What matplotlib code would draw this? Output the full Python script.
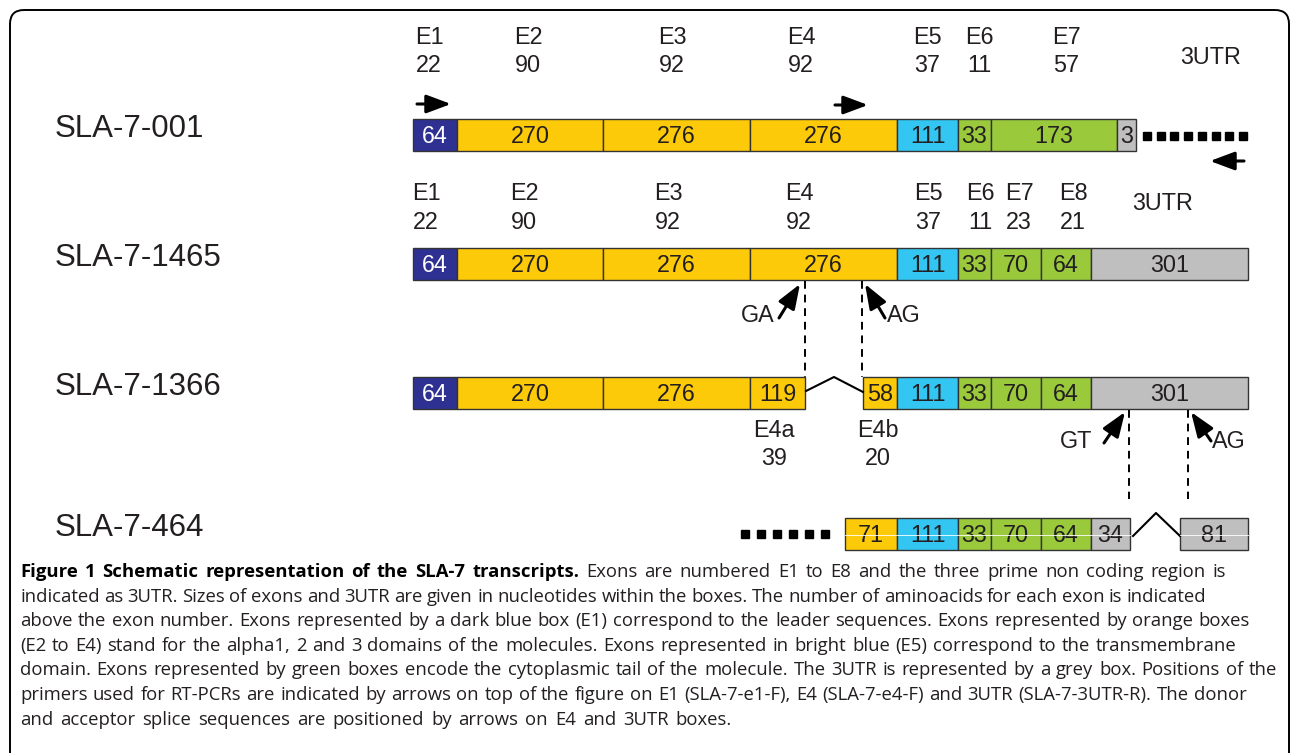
import numpy as np
import matplotlib.pyplot as plt
from matplotlib.patches import Rectangle, FancyBboxPatch

# ---- data: exon sizes (nt) written in the boxes, amino acids above ----
transcripts = ['SLA-7-001', 'SLA-7-1465', 'SLA-7-1366', 'SLA-7-464']

t001_sizes = ['64', '270', '276', '276', '111', '33', '173', '3']
t001_kind = ['lead', 'alpha', 'alpha', 'alpha', 'tm', 'cyto', 'cyto', 'utr']
t001_exons = ['E1', 'E2', 'E3', 'E4', 'E5', 'E6', 'E7']
t001_aa = [22, 90, 92, 92, 37, 11, 57]

t1465_sizes = ['64', '270', '276', '276', '111', '33', '70', '64', '301']
t1465_kind = ['lead', 'alpha', 'alpha', 'alpha', 'tm', 'cyto', 'cyto', 'cyto', 'utr']
t1465_exons = ['E1', 'E2', 'E3', 'E4', 'E5', 'E6', 'E7', 'E8']
t1465_aa = [22, 90, 92, 92, 37, 11, 23, 21]

t1366_sizes = ['64', '270', '276', '119', '58', '111', '33', '70', '64', '301']
t1366_kind = ['lead', 'alpha', 'alpha', 'alpha', 'alpha', 'tm', 'cyto', 'cyto', 'cyto', 'utr']
t1366_split = ['E4a', 'E4b']
t1366_split_aa = [39, 20]

t464_sizes = ['71', '111', '33', '70', '64', '34', '81']
t464_kind = ['alpha', 'tm', 'cyto', 'cyto', 'cyto', 'utr', 'utr']

splice_sites = ['GA', 'AG', 'GT', 'AG']

caption_bold = "Figure 1 Schematic representation of the SLA-7 transcripts."
caption_lines = [
    "Exons are numbered E1 to E8 and the three prime non coding region is",
    "indicated as 3UTR. Sizes of exons and 3UTR are given in nucleotides within the boxes. The number of aminoacids for each exon is indicated",
    "above the exon number. Exons represented by a dark blue box (E1) correspond to the leader sequences. Exons represented by orange boxes",
    "(E2 to E4) stand for the alpha1, 2 and 3 domains of the molecules. Exons represented in bright blue (E5) correspond to the transmembrane",
    "domain. Exons represented by green boxes encode the cytoplasmic tail of the molecule. The 3UTR is represented by a grey box. Positions of the",
    "primers used for RT-PCRs are indicated by arrows on top of the figure on E1 (SLA-7-e1-F), E4 (SLA-7-e4-F) and 3UTR (SLA-7-3UTR-R). The donor",
    "and acceptor splice sequences are positioned by arrows on E4 and 3UTR boxes.",
]
# right end of each caption line as it sits in the page
caption_right = [1275, 1147, 1250, 1237, 1277, 1247, 745]

# ---- layout (pixel space) ----
colors = {'lead': '#2E3192', 'alpha': '#FDCA0A', 'tm': '#33C6F2',
          'cyto': '#9AC93C', 'utr': '#C0BFBF'}
FONT = 'Liberation Sans'
TXT = '#231F20'
FS = 16.8

segs001 = [(413, 457), (457, 603), (603, 750), (750, 897), (897, 958), (958, 991), (991, 1117), (1117, 1136)]
segs1465 = [(413, 457), (457, 603), (603, 750), (750, 897), (897, 958), (958, 991), (991, 1041), (1041, 1091), (1091, 1248)]
segs1366 = [(413, 457), (457, 603), (603, 750), (750, 805), (863, 897), (897, 958), (958, 991), (991, 1041), (1041, 1091), (1091, 1248)]
segs464 = [(845, 897), (897, 958), (958, 991), (991, 1041), (1041, 1091), (1091, 1130), (1180, 1248)]
row_top = [119, 248, 377, 518]
BOX_H = 32

fig = plt.figure(figsize=(12.92, 7.53), dpi=100)
ax = fig.add_axes([0, 0, 1, 1])
ax.set_xlim(0, 1292)
ax.set_ylim(753, 0)
ax.axis('off')

frame = FancyBboxPatch((10, 10), 1279, 820, boxstyle='round,pad=0,rounding_size=14',
                       fc='none', ec='black', lw=1.4)
ax.add_patch(frame)


def draw_row(segs, sizes, kinds, top):
    for (x0, x1), s, k in zip(segs, sizes, kinds):
        ax.add_patch(Rectangle((x0, top), x1 - x0, BOX_H, fc=colors[k], ec='#333333', lw=1, zorder=2))
        ax.text((x0 + x1) / 2, top + BOX_H / 2 + 1, s, ha='center', va='center', fontsize=FS,
                family=FONT, color='white' if k == 'lead' else TXT, zorder=3)


def exon_labels(names, aa, xs, y_name, y_aa):
    for n, a, x in zip(names, aa, xs):
        ax.text(x, y_name, n, ha='center', va='center', fontsize=FS, family=FONT, color=TXT)
        ax.text(x, y_aa, str(a), ha='center', va='center', fontsize=FS, family=FONT, color=TXT)


def arrow(tail, head, lw=2.2):
    ax.annotate('', xy=head, xytext=tail,
                arrowprops=dict(arrowstyle='-|>,head_length=0.75,head_width=0.28', lw=lw, color='black',
                                mutation_scale=20, shrinkA=0, shrinkB=0), zorder=4)


def dots(x0, x1, n, y):
    ax.plot(np.linspace(x0, x1, n), np.full(n, y), ls='none', marker='s', ms=5.6, color='black')


# row labels
for name, top in zip(transcripts, row_top):
    ax.text(55, top + 10, name, ha='left', va='center', fontsize=22.5, family=FONT, color=TXT)

# SLA-7-001
draw_row(segs001, t001_sizes, t001_kind, row_top[0])
exon_labels(t001_exons, t001_aa, [429, 528, 672, 801, 927, 979, 1066], 37, 65)
ax.text(1211, 57, '3UTR', ha='center', va='center', fontsize=FS, family=FONT, color=TXT)
arrow((417, 104), (451, 104))
arrow((835, 105), (868, 105))
arrow((1244, 161), (1210, 161))
dots(1147, 1243, 8, 136)

# SLA-7-1465
draw_row(segs1465, t1465_sizes, t1465_kind, row_top[1])
exon_labels(t1465_exons, t1465_aa, [426, 524, 668, 799, 928, 980, 1019, 1073], 193, 222)
ax.text(1163, 203, '3UTR', ha='center', va='center', fontsize=FS, family=FONT, color=TXT)

# splice donor/acceptor on E4
arrow((779, 318), (800, 284))
arrow((885, 318), (865, 284))
ax.text(758, 315, splice_sites[0], ha='center', va='center', fontsize=FS, family=FONT, color=TXT)
ax.text(904, 315, splice_sites[1], ha='center', va='center', fontsize=FS, family=FONT, color=TXT)
for x in (805, 862):
    ax.plot([x, x], [281, 377], color='black', lw=1.4, ls=(0, (4, 3)))

# SLA-7-1366
draw_row(segs1366, t1366_sizes, t1366_kind, row_top[2])
ax.plot([806, 834, 863], [391, 377, 392], color='black', lw=1.5)
for n, a, x in zip(t1366_split, t1366_split_aa, [774, 878]):
    ax.text(x, 430, n, ha='center', va='center', fontsize=FS, family=FONT, color=TXT)
    ax.text(x, 458, str(a), ha='center', va='center', fontsize=FS, family=FONT, color=TXT)

# splice on 3UTR
arrow((1104, 443), (1125, 412))
arrow((1211, 441), (1191, 412))
ax.text(1076, 441, splice_sites[2], ha='center', va='center', fontsize=FS, family=FONT, color=TXT)
ax.text(1229, 441, splice_sites[3], ha='center', va='center', fontsize=FS, family=FONT, color=TXT)
for x in (1129, 1188):
    ax.plot([x, x], [410, 499], color='black', lw=1.4, ls=(0, (4, 3)))

# SLA-7-464
draw_row(segs464, t464_sizes, t464_kind, row_top[3])
ax.plot([1133, 1156, 1180], [536, 513, 536], color='black', lw=1.5)
dots(745, 825, 6, 534)
for x0, x1 in [(845, 1130), (1180, 1248)]:
    ax.plot([x0, x1], [535, 535], color='white', lw=0.6, zorder=5)

# caption: word spacing nudged toward the page's line ends, within limits
fig.canvas.draw()
r = fig.canvas.get_renderer()
cap_fs = 13.3
cap_font = 'Open Sans'
SPACE = 4.8


def justify(words, y, x0, x1, n_bold=0):
    arts, widths = [], []
    for i, w in enumerate(words):
        t = ax.text(0, y, w, ha='left', va='baseline', fontsize=cap_fs, family=cap_font,
                    weight='bold' if i < n_bold else 'normal',
                    color='black' if i < n_bold else TXT)
        arts.append(t)
        widths.append(t.get_window_extent(renderer=r).width)
    gap = (x1 - x0 - sum(widths)) / (len(words) - 1)
    gap = min(max(gap, 0.9 * SPACE), 1.45 * SPACE)
    x = x0
    for t, w in zip(arts, widths):
        t.set_x(x)
        x += w + gap


y0 = 577
bold_words = caption_bold.split()
justify(bold_words + caption_lines[0].split(), y0, 20, caption_right[0], n_bold=len(bold_words))
for i, line in enumerate(caption_lines[1:], start=1):
    justify(line.split(), y0 + i * 24.6, 20, caption_right[i])

fig.savefig('out.png', dpi=100)
